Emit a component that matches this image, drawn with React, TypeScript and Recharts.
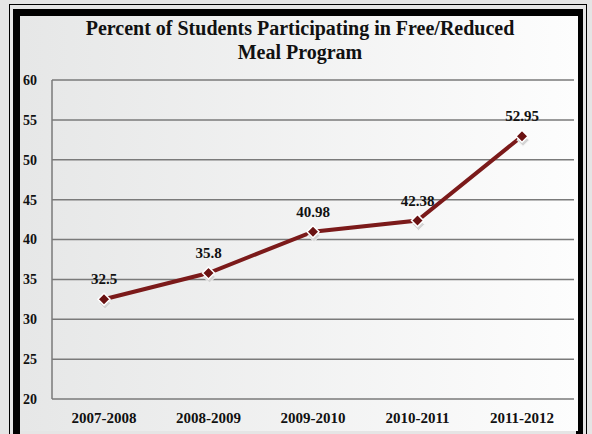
import { LineChart, Line, XAxis, YAxis, CartesianGrid, LabelList } from 'recharts';

const years = ['2007-2008', '2008-2009', '2009-2010', '2010-2011', '2011-2012'];
const percents = [32.5, 35.8, 40.98, 42.38, 52.95];
const yTicks = [20, 25, 30, 35, 40, 45, 50, 55, 60];

const data = years.map((year, i) => ({ year, value: percents[i] }));

const serif = '"Liberation Serif", "DejaVu Serif", serif';

const Diamond = (props: any) => {
  const { cx, cy } = props;
  if (cx == null || cy == null) return null;
  const r = 6;
  const d = (x: number, y: number) => `M${x},${y - r} L${x + r},${y} L${x},${y + r} L${x - r},${y} Z`;
  return (
    <g>
      <path d={d(cx + 1, cy + 4)} fill="#d4d4d4" stroke="#f4f4f4" strokeWidth={1} />
      <path d={d(cx, cy)} fill="#6a1212" stroke="#ffffff" strokeWidth={1.5} />
    </g>
  );
};

export default function App() {
  return (
    <div style={{ position: 'absolute', left: 0, top: 0, width: 592, height: 434, background: '#e5e5e5', overflow: 'hidden' }}>
      {/* thin outer line */}
      <div style={{ position: 'absolute', left: 9, top: 4, width: 578, height: 440, border: '1.5px solid #000', boxSizing: 'border-box' }} />
      {/* thick frame */}
      <div style={{ position: 'absolute', left: 13, top: 9, width: 570, height: 432, border: '7px solid #000', boxSizing: 'border-box' }} />
      {/* inner panel */}
      <div style={{ position: 'absolute', left: 20, top: 16, width: 558, height: 415, background: 'linear-gradient(to right, #e6e7e7, #fdfdfd)' }} />
      <div style={{ position: 'absolute', left: 0, top: 16, width: 600, textAlign: 'center', fontFamily: serif, fontWeight: 'bold', fontSize: 20, lineHeight: '24px', color: '#111' }}>
        Percent of Students Participating in Free/Reduced
        <br />
        Meal Program
      </div>
      <div style={{ position: 'absolute', left: 0, top: 0 }}>
        <LineChart width={592} height={434} data={data} margin={{ top: 80, right: 18, bottom: 0, left: 0 }}>
          <CartesianGrid vertical={false} stroke="#7a7a7a" strokeWidth={1.5} />
          <XAxis
            dataKey="year"
            height={35}
            padding={{ left: 52, right: 52 }}
            axisLine={false}
            tickLine={false}
            tickSize={0}
            tickMargin={13}
            interval={0}
            tick={{ fontFamily: serif, fontWeight: 'bold', fontSize: 15, fill: '#111' }}
          />
          <YAxis
            width={52}
            domain={[20, 60]}
            ticks={yTicks}
            interval={0}
            axisLine={{ stroke: '#7a7a7a', strokeWidth: 1.5 }}
            tickLine={false}
            tickSize={0}
            tickMargin={15}
            tick={{ fontFamily: serif, fontWeight: 'bold', fontSize: 14, fill: '#111' }}
          />
          <Line
            type="linear"
            dataKey="value"
            stroke="#7b1a1a"
            strokeWidth={4}
            dot={<Diamond />}
            activeDot={false}
            isAnimationActive={false}
          >
            <LabelList dataKey="value" position="top" offset={15} style={{ fontFamily: serif, fontWeight: 'bold', fontSize: 15, fill: '#111' }} />
          </Line>
        </LineChart>
      </div>
    </div>
  );
}
